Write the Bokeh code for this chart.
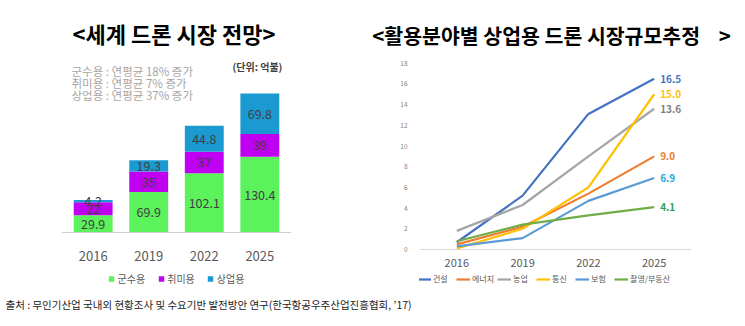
from bokeh.plotting import figure
from bokeh.models import (FactorRange, Range1d, Label, Legend, LegendItem,
                          FixedTicker, ColumnDataSource)
from bokeh.layouts import row, column
from bokeh.embed import file_html
from bokeh.resources import INLINE
from bokeh.core.properties import value

FONT = "Noto Sans CJK KR"

# ---------------- data: world drone market ----------------
years = ["2016", "2019", "2022", "2025"]
segments = ["군수용", "취미용", "상업용"]
military = [29.9, 69.9, 102.1, 130.4]
hobby = [22, 35, 37, 39]
commercial = [4.2, 19.3, 44.8, 69.8]
growth_notes = ["군수용 : 연평균 18% 증가", "취미용 : 연평균 7% 증가", "상업용 : 연평균 37% 증가"]
unit_text = "(단위: 억불)"
left_title = "<세계 드론 시장 전망>"

# ---------------- data: commercial drone market by field ----------------
fields = ["건설", "에너지", "농업", "통신", "보험", "촬영/부동산"]
construction = [0.7, 5.2, 13.1, 16.5]
energy = [0.5, 2.2, 5.4, 9.0]
agriculture = [1.8, 4.3, 9.0, 13.6]
telecom = [0.1, 2.0, 6.0, 15.0]
insurance = [0.3, 1.1, 4.7, 6.9]
filming = [0.8, 2.4, 3.3, 4.1]
y_ticks = [0, 2, 4, 6, 8, 10, 12, 14, 16, 18]
right_title = "<활용분야별 상업용 드론 시장규모추정\u00a0\u00a0\u00a0 >"
source_text = "출처 : 무인기산업 국내외 현황조사 및 수요기반 발전방안 연구(한국항공우주산업진흥협회, ’17)"

# ---------------- styles ----------------
bar_colors = ["#5CF25C", "#C000F0", "#1B9AD2"]
line_colors = ["#4472C4", "#ED7D31", "#A5A5A5", "#FFC000", "#5B9BD5", "#70AD47"]
end_label_colors = ["#4472C4", "#ED7D31", "#7F7F7F", "#FFC000", "#1CA9E0", "#2EA05A"]

HEAD_H = 50

# ================= HEADER (titles) =================
head = figure(width=745, height=HEAD_H, x_range=Range1d(0, 745), y_range=Range1d(HEAD_H, 0),
              output_backend="svg", toolbar_location=None,
              x_axis_location=None, y_axis_location=None, min_border=0)
head.outline_line_color = None
head.grid.visible = False
head.add_layout(Label(x=173.5, y=32, text=left_title, text_align="center",
                      text_baseline="middle", text_font=FONT, text_font_size="22px",
                      text_font_style="bold", text_color="#000000"))
head.add_layout(Label(x=551, y=34, text=right_title, text_align="center",
                      text_baseline="middle", text_font=FONT, text_font_size="20.5px",
                      text_font_style="bold", text_color="#000000"))

# ================= LEFT: stacked bars =================
L_W, L_H = 360, 290 - HEAD_H
L_LEFT, L_RIGHT = 61, 69
L_PAD = 0.07                     # padding per side, in category units
L_BASE = 232                     # picture row of the bar baseline
L_PX_PER_UNIT = 0.581
L_FRAME_W = L_W - L_LEFT - L_RIGHT
L_UNIT_X = L_FRAME_W / (len(years) + 2 * L_PAD)

def lx(sx):
    return (sx - L_LEFT) / L_UNIT_X - L_PAD

def ly(sy):
    return (L_BASE - sy) / L_PX_PER_UNIT

left = figure(width=L_W, height=L_H,
              x_range=FactorRange(factors=years, range_padding=L_PAD,
                                  range_padding_units="absolute"),
              y_range=Range1d(ly(290), ly(HEAD_H)),
              output_backend="svg", toolbar_location=None,
              y_axis_location=None,
              min_border_left=L_LEFT, min_border_right=L_RIGHT,
              min_border_top=0, min_border_bottom=0)
left.outline_line_color = None
left.grid.visible = False

src = ColumnDataSource(dict(years=years, 군수용=military, 취미용=hobby, 상업용=commercial))
bars = left.vbar_stack(segments, x="years", width=0.7, color=bar_colors,
                       line_color=None, source=src)

lab_x, lab_y, lab_t = [], [], []
for i, yr in enumerate(years):
    base = 0.0
    for seg in (military, hobby, commercial):
        v = seg[i]
        lab_x.append(yr)
        lab_y.append(base + v / 2)
        lab_t.append(f"{v:g}")
        base += v
left.text(x=lab_x, y=lab_y, text=lab_t, text_align="center", text_baseline="middle",
          text_font=value(FONT), text_font_size="12.5px", text_color="#404040")

xa = left.xaxis[0]
xa.fixed_location = 0
xa.axis_line_color = "#D0D0D0"
xa.major_tick_line_color = None
xa.minor_tick_line_color = None
xa.major_label_standoff = 12
xa.major_label_text_font = FONT
xa.major_label_text_font_size = "13px"
xa.major_label_text_color = "#595959"

leg_l = Legend(items=[LegendItem(label=s, renderers=[r]) for s, r in zip(segments, bars)],
               orientation="horizontal", location="bottom_center",
               glyph_width=7, glyph_height=7, label_height=12, label_standoff=3,
               spacing=12, padding=0, margin=4, border_line_color=None,
               background_fill_alpha=0,
               label_text_font=FONT, label_text_font_size="10px",
               label_text_color="#595959")
left.add_layout(leg_l)

for k, note in enumerate(growth_notes):
    left.add_layout(Label(x=lx(71), y=ly(70 + 12 * k), text=note, text_align="left",
                          text_baseline="middle", text_font=FONT, text_font_size="11.5px",
                          text_color="#A6A6A6"))
left.add_layout(Label(x=lx(232), y=ly(66), text=unit_text, text_align="left",
                      text_baseline="middle", text_font=FONT, text_font_size="10px",
                      text_font_style="bold", text_color="#404040"))

# ================= RIGHT: lines =================
R_W, R_H = 385, 290 - HEAD_H
R_LEFT, R_RIGHT = 59, 54
R_PAD = 0.067                    # padding per side, in category units
R_BASE = 249                     # picture row of value 0
R_PX_PER_UNIT = 10.35

def ry(sy):
    return (R_BASE - sy) / R_PX_PER_UNIT

right = figure(width=R_W, height=R_H,
               x_range=FactorRange(factors=years, range_padding=R_PAD,
                                   range_padding_units="absolute"),
               y_range=Range1d(ry(290), ry(HEAD_H)),
               output_backend="svg", toolbar_location=None,
               min_border_left=R_LEFT, min_border_right=R_RIGHT,
               min_border_top=0, min_border_bottom=0)
right.outline_line_color = None
right.xgrid.visible = False
right.ygrid.ticker = FixedTicker(ticks=[0])
right.ygrid.grid_line_color = "#D9D9D9"

series = [construction, energy, agriculture, telecom, insurance, filming]
line_rs = []
for vals, col in zip(series, line_colors):
    line_rs.append(right.line(x=years, y=vals, line_color=col, line_width=2.2))

end_x = [years[-1]] * len(series)
end_y = [s[-1] for s in series]
end_t = [f"{s[-1]:.1f}" for s in series]
right.text(x=end_x, y=end_y, text=end_t, x_offset=6, text_align="left",
           text_baseline="middle", text_font=value(FONT), text_font_size="10px",
           text_font_style="bold", text_color=end_label_colors)

ya = right.yaxis[0]
ya.ticker = FixedTicker(ticks=y_ticks)
ya.axis_line_color = None
ya.major_tick_line_color = None
ya.minor_tick_line_color = None
ya.major_label_standoff = 6
ya.major_label_text_font = FONT
ya.major_label_text_font_size = "6.5px"
ya.major_label_text_color = "#808080"

xb = right.xaxis[0]
xb.fixed_location = 0
xb.axis_line_color = None
xb.major_tick_line_color = None
xb.minor_tick_line_color = None
xb.major_label_standoff = 3
xb.major_label_text_font = FONT
xb.major_label_text_font_size = "11px"
xb.major_label_text_color = "#595959"

leg_r = Legend(items=[LegendItem(label=f, renderers=[r]) for f, r in zip(fields, line_rs)],
               orientation="horizontal", location=(-2, 6),
               glyph_width=14, glyph_height=8, label_height=10, label_standoff=2,
               spacing=3, padding=0, margin=0, border_line_color=None,
               background_fill_alpha=0,
               label_text_font=FONT, label_text_font_size="8px",
               label_text_color="#595959")
right.add_layout(leg_r)

# ================= SOURCE LINE =================
foot = figure(width=745, height=36, x_range=Range1d(0, 745), y_range=Range1d(36, 0),
              output_backend="svg", toolbar_location=None,
              x_axis_location=None, y_axis_location=None,
              min_border=0)
foot.outline_line_color = None
foot.grid.visible = False
foot.add_layout(Label(x=5, y=14, text=source_text, text_align="left",
                      text_baseline="middle", text_font=FONT, text_font_size="10.5px",
                      text_color="#222222"))

layout = column(head, row(left, right), foot)
open("out.html", "w").write(file_html(layout, INLINE))
